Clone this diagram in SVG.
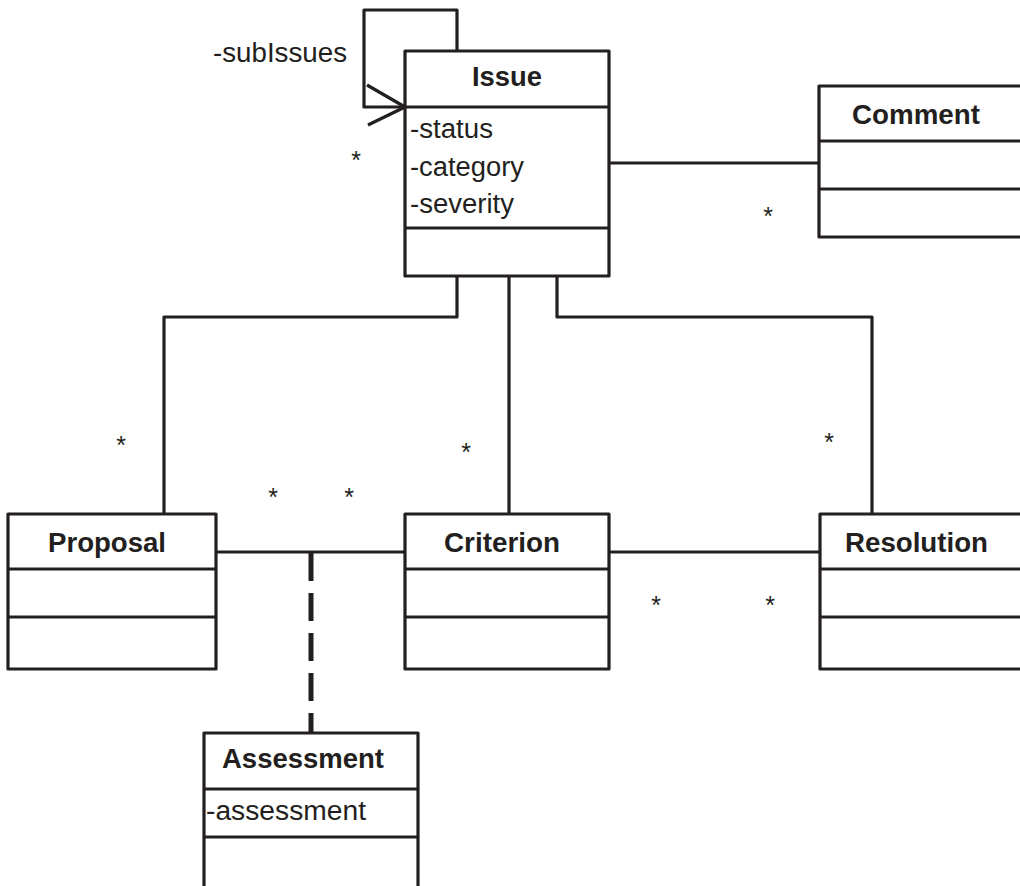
<svg xmlns="http://www.w3.org/2000/svg" width="1020" height="886" viewBox="0 0 1020 886">
  <style>
    .box { fill: #ffffff; stroke: #231f20; stroke-width: 3.2; stroke-linejoin: round; }
    .div { stroke: #231f20; stroke-width: 3.2; fill: none; }
    .conn { stroke: #231f20; stroke-width: 3.2; fill: none; stroke-linejoin: round; }
    .assoc { stroke: #231f20; stroke-width: 5; fill: none; stroke-dasharray: 28 12; }
    .title { font-family: "Liberation Sans", Arial, sans-serif; font-size: 27px; font-weight: bold; fill: #231f20; }
    .attr { font-family: "Liberation Sans", Arial, sans-serif; font-size: 27px; fill: #231f20; }
    .mult { font-family: "Liberation Sans", Arial, sans-serif; font-size: 25px; fill: #231f20; text-anchor: middle; }
  </style>
  <rect width="1020" height="886" fill="#ffffff"/>

  <!-- connectors -->
  <g id="connectors">
    <!-- subIssues self association -->
    <polyline class="conn" points="457,51 457,10 364,10 364,107 405,107"/>
    <polyline class="conn" points="367,85 405,107 368,125" stroke-width="3.8"/>
    <!-- Issue - Comment -->
    <line class="conn" x1="609" y1="163" x2="819" y2="163"/>
    <!-- Issue - Proposal -->
    <polyline class="conn" points="457,276 457,317 164,317 164,514"/>
    <!-- Issue - Criterion -->
    <line class="conn" x1="509" y1="276" x2="509" y2="514"/>
    <!-- Issue - Resolution -->
    <polyline class="conn" points="557,276 557,317 872,317 872,514"/>
    <!-- Proposal - Criterion -->
    <line class="conn" x1="216" y1="552" x2="405" y2="552"/>
    <!-- Criterion - Resolution -->
    <line class="conn" x1="609" y1="552" x2="820" y2="552"/>
    <!-- association class link -->
    <line class="assoc" x1="311" y1="553" x2="311" y2="733"/>

    <!-- multiplicities -->
    <text class="mult" x="356" y="169">*</text>
    <text class="mult" x="768" y="225">*</text>
    <text class="mult" x="121" y="454">*</text>
    <text class="mult" x="466" y="461">*</text>
    <text class="mult" x="829" y="451">*</text>
    <text class="mult" x="273" y="506">*</text>
    <text class="mult" x="349" y="506">*</text>
    <text class="mult" x="656" y="614">*</text>
    <text class="mult" x="770" y="614">*</text>
    <text class="attr" x="213" y="62" textLength="134" lengthAdjust="spacingAndGlyphs">-subIssues</text>
  </g>

  <!-- Issue -->
  <g id="issue">
    <rect class="box" x="405" y="51" width="204" height="225"/>
    <line class="div" x1="405" y1="107" x2="609" y2="107"/>
    <line class="div" x1="405" y1="228" x2="609" y2="228"/>
    <text class="title" x="472" y="86" textLength="70" lengthAdjust="spacingAndGlyphs">Issue</text>
    <text class="attr" x="410" y="138" textLength="83" lengthAdjust="spacingAndGlyphs">-status</text>
    <text class="attr" x="410" y="176" textLength="114" lengthAdjust="spacingAndGlyphs">-category</text>
    <text class="attr" x="410" y="213" textLength="104" lengthAdjust="spacingAndGlyphs">-severity</text>
  </g>

  <!-- Comment -->
  <g id="comment">
    <rect class="box" x="819" y="86" width="230" height="151"/>
    <line class="div" x1="819" y1="141" x2="1049" y2="141"/>
    <line class="div" x1="819" y1="189" x2="1049" y2="189"/>
    <text class="title" x="852" y="124" textLength="128" lengthAdjust="spacingAndGlyphs">Comment</text>
  </g>

  <!-- Proposal -->
  <g id="proposal">
    <rect class="box" x="8" y="514" width="208" height="155"/>
    <line class="div" x1="8" y1="569" x2="216" y2="569"/>
    <line class="div" x1="8" y1="617" x2="216" y2="617"/>
    <text class="title" x="48" y="552" textLength="118" lengthAdjust="spacingAndGlyphs">Proposal</text>
  </g>

  <!-- Criterion -->
  <g id="criterion">
    <rect class="box" x="405" y="514" width="204" height="155"/>
    <line class="div" x1="405" y1="569" x2="609" y2="569"/>
    <line class="div" x1="405" y1="617" x2="609" y2="617"/>
    <text class="title" x="444" y="552" textLength="116" lengthAdjust="spacingAndGlyphs">Criterion</text>
  </g>

  <!-- Resolution -->
  <g id="resolution">
    <rect class="box" x="820" y="514" width="230" height="155"/>
    <line class="div" x1="820" y1="569" x2="1050" y2="569"/>
    <line class="div" x1="820" y1="617" x2="1050" y2="617"/>
    <text class="title" x="845" y="552" textLength="143" lengthAdjust="spacingAndGlyphs">Resolution</text>
  </g>

  <!-- Assessment -->
  <g id="assessment">
    <rect class="box" x="204" y="733" width="214" height="165"/>
    <line class="div" x1="204" y1="789" x2="418" y2="789"/>
    <line class="div" x1="204" y1="837" x2="418" y2="837"/>
    <text class="title" x="222" y="768" textLength="162" lengthAdjust="spacingAndGlyphs">Assessment</text>
    <text class="attr" x="206" y="820" textLength="160" lengthAdjust="spacingAndGlyphs">-assessment</text>
  </g>
</svg>
